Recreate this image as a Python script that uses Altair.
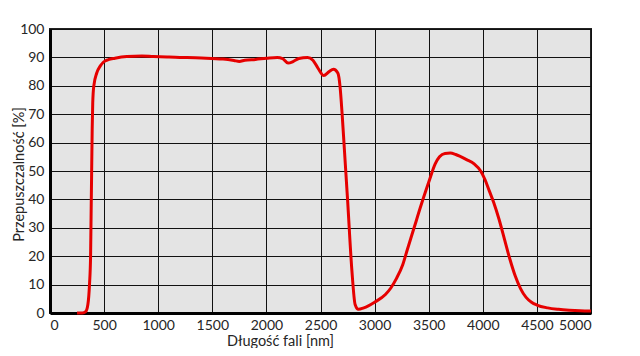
import altair as alt
import pandas as pd

wavelength = [250, 300, 330, 350, 365, 375, 380, 385, 390, 395, 405, 432, 465, 493, 540,
              600, 710, 850, 955, 1100, 1200, 1400, 1600, 1700, 1750, 1800, 1900, 2000,
              2100, 2150, 2200, 2250, 2300, 2380, 2430, 2480, 2530, 2580, 2620, 2660,
              2680, 2700, 2720, 2750, 2790, 2820, 2850, 2900, 3000, 3100, 3150, 3200,
              3260, 3300, 3365, 3430, 3500, 3560, 3600, 3650, 3700, 3750, 3850, 3920,
              3980, 4020, 4060, 4100, 4150, 4200, 4250, 4300, 4350, 4400, 4450, 4500,
              4600, 4700, 4800, 4900, 5000]
transmission = [0, 0, 0.5, 3, 10, 20, 35, 50, 65, 74, 80, 84.5, 87.0, 88.3, 89.2,
                89.7, 90.3, 90.5, 90.3, 90.1, 90.0, 89.8, 89.4, 88.9, 88.6, 89.0, 89.3, 89.7,
                90.0, 89.6, 88.0, 88.6, 89.6, 90.0, 89.0, 86.0, 83.6, 85.0, 85.8, 84.5,
                80, 70, 58, 40, 15, 3, 1.3, 1.8, 3.8, 6.5, 8.8, 12,
                17, 22, 30, 38, 46, 52.5, 55, 56.2, 56.3, 55.8, 54, 52.5,
                50, 47, 43, 39, 33, 26, 19, 13, 8.5, 5.5, 3.8, 2.8,
                1.8, 1.3, 1.0, 0.8, 0.7]

x_ticks = list(range(0, 5001, 500))
y_ticks = list(range(0, 101, 10))

df = pd.DataFrame({"wl": wavelength, "t": transmission})

FONT = "Lato"

chart = alt.Chart(df).mark_line(
    color="#e60000", strokeWidth=3, interpolate="monotone"
).encode(
    x=alt.X("wl:Q", scale=alt.Scale(domain=[0, 5000], nice=False),
            axis=alt.Axis(values=x_ticks, format="d", title="Długość fali [nm]", ticks=False,
                          labelPadding=5, titleX=230, titleY=28, titleBaseline="middle",
                          titleAlign="center")),
    y=alt.Y("t:Q", scale=alt.Scale(domain=[0, 100], nice=False),
            axis=alt.Axis(values=y_ticks, format="d", title="Przepuszczalność [%]", ticks=False,
                          labelPadding=6, titleX=-31, titleY=145, titleAngle=-90,
                          titleBaseline="middle", titleAlign="center")),
).properties(
    width=541, height=284,
    autosize=alt.AutoSizeParams(type="none"),
    padding={"left": 42, "top": 21, "right": 40, "bottom": 35},
).configure_view(
    fill="#e4e4e4", stroke="#222222", strokeWidth=2
).configure_axis(
    grid=True, gridColor="#111111", gridWidth=1, gridOpacity=1,
    domainColor="#000000", domainWidth=3,
    labelFont=FONT, labelFontSize=14, labelColor="#262626",
    titleFont=FONT, titleFontSize=14.5, titleFontWeight="normal", titleColor="#262626",
)

chart.save("out.html", embed_options={"renderer": "svg", "actions": False})
